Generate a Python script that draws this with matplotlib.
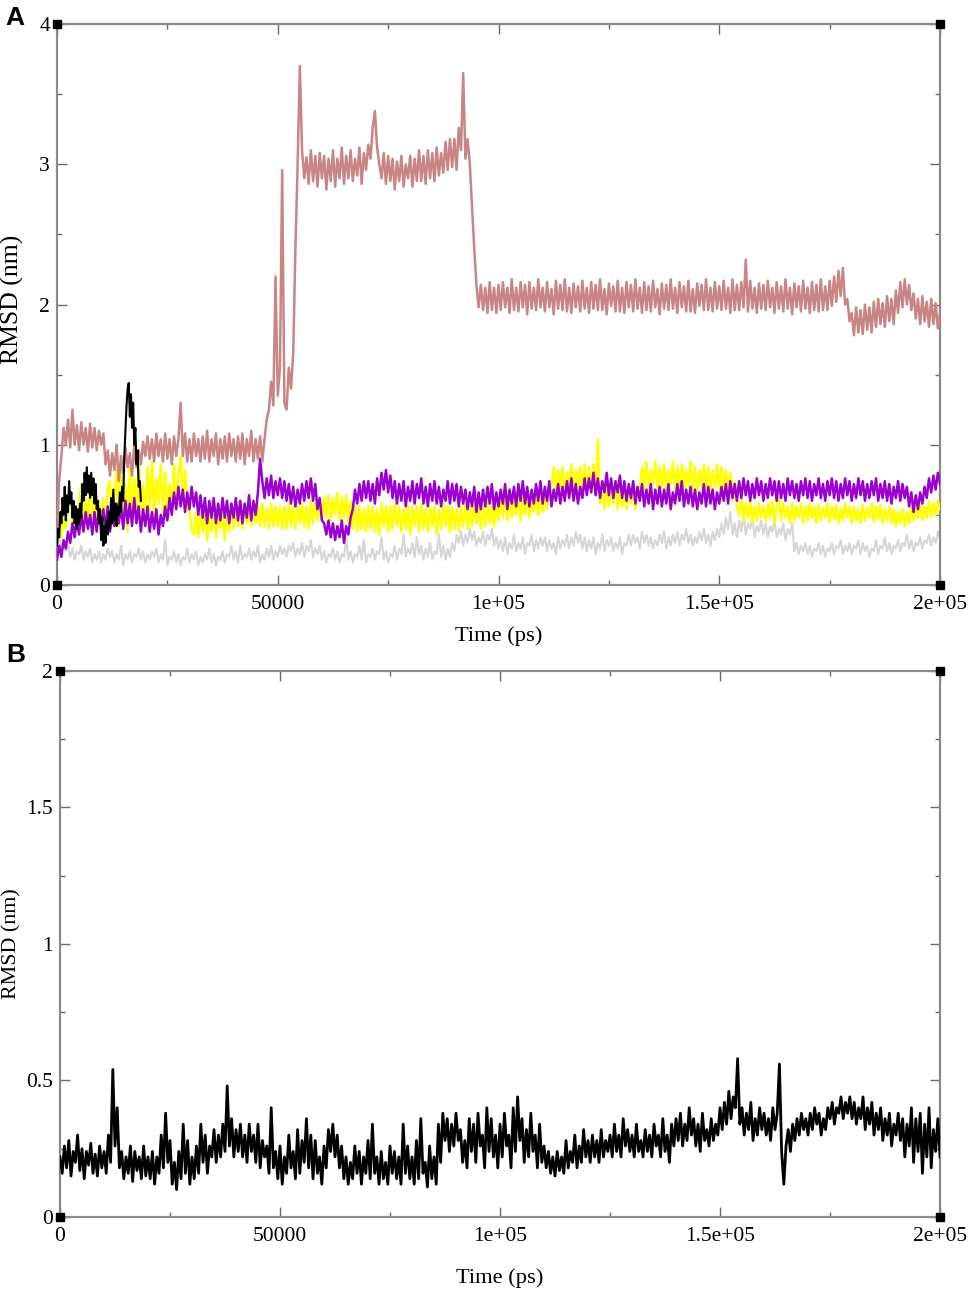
import numpy as np
import matplotlib
matplotlib.use('Agg')
import matplotlib.pyplot as plt
from matplotlib.ticker import MultipleLocator

plt.rcParams['font.family'] = ['Liberation Serif', 'DejaVu Serif']

# ---------------- data (RMSD in hundredths of nm) ----------------
STEP_A = 500        # ps between samples (panel A, long series)
STEP_BLACK_A = 250  # ps between samples (panel A, short black series)
STEP_B = 500        # ps between samples (panel B)

brown = [
    30, 75, 92, 112, 100, 118, 98, 125, 100, 114, 96, 116, 100, 112, 95, 115, 98, 112, 96, 110,
    100, 108, 86, 96, 78, 94, 82, 100, 74, 92, 80, 98, 84, 94, 78, 100, 84, 96, 86, 102,
    92, 106, 90, 104, 88, 108, 92, 104, 88, 108, 90, 104, 86, 106, 92, 104, 130, 92, 108, 88,
    104, 88, 108, 92, 104, 88, 106, 90, 110, 88, 104, 92, 108, 86, 104, 90, 106, 88, 108, 92,
    104, 88, 106, 90, 108, 86, 104, 92, 110, 88, 104, 90, 106, 88, 104, 118, 125, 145, 128, 220,
    135, 155, 296, 130, 125, 155, 140, 165, 240, 300, 370, 310, 290, 305, 286, 310, 288, 306, 284, 308,
    290, 306, 282, 304, 288, 310, 284, 304, 290, 312, 286, 306, 290, 310, 288, 304, 292, 312, 286, 308,
    296, 314, 304, 326, 338, 312, 300, 290, 308, 286, 306, 288, 304, 282, 302, 288, 306, 284, 300, 290,
    306, 284, 304, 288, 310, 288, 306, 286, 310, 290, 308, 288, 312, 292, 308, 294, 316, 296, 318, 298,
    318, 296, 326, 310, 365, 304, 318, 300, 270, 240, 214, 198, 214, 196, 212, 194, 216, 196, 212, 194,
    214, 196, 216, 198, 212, 194, 218, 196, 212, 195, 216, 198, 214, 193, 216, 197, 212, 196, 218, 198,
    212, 195, 216, 198, 211, 193, 217, 197, 214, 196, 218, 195, 212, 194, 215, 198, 213, 195, 217, 197,
    212, 194, 216, 197, 214, 196, 218, 196, 211, 193, 215, 199, 213, 195, 217, 195, 212, 194, 216, 198,
    214, 195, 218, 197, 212, 194, 216, 196, 213, 195, 217, 198, 211, 193, 215, 197, 214, 196, 218, 197,
    212, 194, 216, 198, 213, 195, 217, 195, 211, 194, 215, 199, 214, 196, 218, 196, 212, 195, 216, 197,
    213, 196, 217, 197, 212, 194, 218, 196, 214, 196, 216, 198, 232, 195, 217, 197, 212, 194, 215, 197,
    214, 196, 217, 198, 212, 194, 216, 197, 213, 195, 218, 197, 212, 193, 215, 198, 213, 195, 217, 197,
    212, 194, 216, 196, 214, 195, 218, 196, 213, 196, 217, 199, 220, 202, 224, 206, 226, 200, 204, 188,
    194, 178, 198, 180, 196, 179, 200, 182, 198, 180, 202, 184, 204, 186, 201, 184, 206, 188, 204, 186,
    210, 194, 216, 198, 218, 200, 214, 196, 208, 190, 204, 186, 206, 188, 202, 184, 204, 186, 201, 183,
    194,
]

purple = [
    18, 28, 20, 32, 26, 38, 30, 44, 34, 48, 36, 50, 38, 52, 40, 50, 36, 52, 38, 54,
    42, 54, 40, 56, 38, 52, 42, 58, 44, 56, 40, 60, 44, 58, 42, 62, 44, 56, 38, 54,
    42, 56, 38, 52, 40, 54, 36, 50, 42, 56, 46, 62, 50, 66, 54, 70, 56, 68, 52, 66,
    54, 70, 56, 66, 50, 64, 48, 62, 44, 60, 48, 62, 44, 58, 46, 62, 48, 60, 44, 58,
    48, 62, 46, 60, 44, 58, 48, 64, 46, 60, 50, 66, 90, 74, 62, 76, 64, 78, 62, 74,
    64, 76, 62, 74, 60, 72, 58, 70, 56, 68, 58, 72, 60, 74, 62, 76, 60, 72, 54, 62,
    46, 44, 36, 46, 34, 44, 32, 42, 34, 46, 30, 42, 36, 48, 54, 68, 58, 72, 60, 74,
    62, 74, 60, 72, 58, 76, 64, 80, 68, 82, 66, 78, 62, 74, 58, 72, 60, 74, 56, 70,
    60, 74, 58, 72, 62, 76, 58, 70, 56, 72, 60, 74, 58, 70, 56, 68, 60, 74, 58, 72,
    60, 72, 56, 70, 58, 68, 54, 66, 56, 70, 52, 66, 54, 68, 56, 70, 58, 72, 54, 66,
    56, 68, 58, 72, 54, 68, 58, 70, 56, 72, 60, 74, 58, 70, 56, 68, 58, 72, 60, 74,
    58, 70, 60, 74, 56, 68, 60, 72, 58, 70, 60, 74, 62, 76, 60, 72, 58, 70, 62, 76,
    64, 76, 66, 80, 64, 76, 62, 74, 66, 80, 64, 76, 62, 74, 66, 78, 62, 74, 60, 72,
    62, 74, 58, 70, 60, 72, 56, 68, 58, 72, 54, 68, 58, 70, 56, 68, 58, 72, 54, 66,
    58, 72, 60, 74, 56, 68, 58, 70, 56, 68, 54, 66, 58, 72, 56, 70, 58, 68, 54, 66,
    58, 70, 60, 72, 58, 74, 62, 72, 60, 74, 62, 76, 64, 74, 60, 72, 62, 76, 64, 74,
    60, 72, 62, 76, 64, 74, 60, 74, 62, 72, 60, 76, 64, 74, 62, 72, 60, 74, 64, 76,
    62, 74, 60, 72, 64, 76, 62, 72, 60, 74, 64, 76, 62, 74, 60, 72, 62, 76, 64, 74,
    60, 72, 62, 76, 64, 74, 60, 72, 62, 74, 64, 76, 60, 72, 62, 74, 60, 72, 58, 70,
    62, 74, 60, 72, 62, 70, 56, 66, 52, 64, 54, 66, 58, 70, 62, 76, 66, 78, 68, 80,
    72,
]

yellow = [
    38, 48, 34, 52, 40, 64, 68, 42, 54, 38, 58, 72, 44, 62, 40, 76, 46, 68, 38, 60,
    42, 62, 36, 70, 74, 44, 64, 82, 42, 88, 50, 72, 38, 84, 54, 76, 44, 90, 52, 72,
    46, 84, 54, 88, 50, 76, 58, 86, 52, 80, 48, 72, 56, 86, 60, 78, 92, 62, 82, 54,
    54, 40, 36, 52, 34, 50, 38, 56, 32, 48, 38, 58, 34, 52, 40, 54, 32, 50, 38, 58,
    40, 58, 42, 60, 40, 56, 44, 56, 42, 58, 44, 56, 42, 58, 42, 54, 40, 58, 42, 56,
    42, 56, 40, 56, 40, 58, 42, 56, 40, 56, 44, 58, 42, 56, 40, 60, 44, 58, 46, 62,
    46, 62, 48, 64, 46, 62, 50, 66, 46, 62, 48, 64, 44, 60, 40, 56, 38, 56, 40, 54,
    38, 56, 40, 56, 38, 54, 36, 58, 42, 56, 38, 56, 40, 58, 42, 56, 38, 54, 40, 56,
    36, 56, 42, 56, 38, 58, 40, 54, 38, 56, 42, 56, 36, 54, 40, 58, 42, 56, 38, 56,
    40, 54, 38, 56, 42, 58, 40, 56, 42, 58, 44, 58, 40, 56, 42, 58, 44, 56, 42, 60,
    46, 60, 48, 64, 46, 62, 48, 62, 50, 64, 46, 62, 50, 66, 48, 62, 52, 66, 50, 64,
    52, 66, 54, 72, 70, 84, 66, 82, 68, 84, 66, 80, 70, 86, 68, 82, 66, 84, 70, 86,
    68, 84, 70, 86, 66, 104, 58, 72, 54, 70, 56, 72, 58, 74, 54, 70, 56, 68, 54, 70,
    58, 74, 54, 70, 68, 84, 70, 88, 68, 82, 72, 88, 68, 84, 70, 86, 66, 82, 72, 88,
    68, 84, 70, 86, 66, 82, 70, 88, 68, 84, 66, 82, 70, 86, 68, 84, 66, 82, 70, 86,
    68, 84, 66, 82, 68, 80, 60, 74, 56, 50, 62, 46, 58, 48, 60, 44, 56, 46, 58, 48,
    56, 46, 58, 48, 60, 44, 56, 62, 46, 58, 48, 56, 44, 58, 46, 56, 48, 58, 44, 56,
    46, 58, 48, 56, 44, 57, 46, 55, 48, 58, 45, 56, 47, 57, 44, 54, 46, 58, 48, 56,
    44, 56, 46, 54, 44, 57, 46, 55, 48, 58, 45, 56, 47, 57, 44, 54, 46, 56, 44, 54,
    42, 52, 44, 54, 42, 52, 44, 56, 46, 54, 48, 58, 46, 56, 48, 60, 48, 58, 50, 60,
    54,
]

gray = [
    30, 34, 26, 32, 24, 28, 20, 26, 18, 24, 22, 28, 18, 24, 20, 26, 16, 22, 18, 24,
    16, 22, 18, 26, 20, 24, 16, 22, 18, 28, 14, 22, 18, 24, 16, 22, 20, 26, 18, 24,
    16, 22, 18, 24, 20, 26, 16, 22, 18, 32, 14, 20, 18, 24, 16, 22, 14, 20, 18, 26,
    16, 22, 18, 24, 14, 20, 16, 22, 18, 26, 16, 22, 14, 20, 18, 24, 16, 22, 20, 28,
    18, 24, 16, 28, 18, 22, 20, 26, 18, 24, 20, 28, 16, 22, 18, 26, 20, 28, 18, 24,
    20, 28, 22, 26, 20, 28, 24, 30, 20, 26, 22, 30, 20, 28, 24, 32, 20, 26, 22, 28,
    18, 24, 16, 22, 20, 26, 18, 24, 16, 22, 20, 34, 18, 24, 16, 22, 20, 28, 18, 32,
    16, 22, 20, 26, 18, 24, 22, 34, 18, 24, 16, 22, 20, 28, 18, 26, 22, 36, 20, 26,
    22, 30, 20, 34, 22, 28, 18, 26, 20, 30, 18, 24, 22, 36, 20, 28, 18, 26, 20, 30,
    24, 36, 30, 38, 28, 36, 30, 40, 32, 38, 28, 34, 30, 38, 28, 36, 32, 40, 28, 34,
    26, 32, 24, 34, 22, 30, 26, 36, 24, 30, 26, 34, 22, 30, 28, 36, 24, 32, 26, 34,
    28, 34, 24, 32, 26, 30, 22, 34, 26, 32, 28, 36, 26, 34, 28, 38, 30, 36, 26, 34,
    24, 32, 26, 34, 22, 30, 26, 36, 24, 32, 28, 34, 24, 30, 26, 34, 22, 30, 28, 36,
    28, 36, 30, 34, 26, 38, 30, 36, 28, 34, 26, 32, 28, 36, 30, 38, 26, 34, 28, 36,
    30, 38, 28, 36, 32, 40, 30, 36, 28, 34, 30, 38, 32, 40, 30, 36, 28, 38, 32, 40,
    34, 44, 36, 48, 40, 52, 36, 44, 34, 46, 38, 50, 36, 44, 40, 48, 34, 42, 38, 46,
    36, 44, 34, 42, 38, 46, 34, 40, 36, 44, 32, 40, 36, 44, 24, 30, 22, 28, 24, 30,
    22, 28, 20, 26, 24, 30, 22, 28, 20, 26, 24, 30, 22, 28, 26, 32, 22, 28, 24, 30,
    22, 28, 26, 32, 22, 30, 24, 28, 20, 26, 24, 32, 22, 28, 26, 34, 24, 30, 22, 28,
    26, 32, 24, 30, 28, 36, 26, 32, 24, 30, 28, 34, 26, 32, 30, 36, 28, 34, 30, 38,
    32,
]

black_a = [
    28, 40, 34, 52, 44, 62, 50, 70, 46, 64, 52,
    74, 58, 66, 48, 60, 44, 56, 40, 54, 44,
    58, 48, 72, 60, 80, 64, 84, 66, 78,
    62, 80, 64, 76, 58, 72, 54, 60, 44,
    54, 32, 48, 28, 42, 30, 46, 36, 52,
    40, 62, 44, 68, 46, 58, 42, 56, 50,
    66, 52, 70, 60, 92, 110, 128, 140, 144,
    120, 136, 112, 130, 100, 112, 86, 96, 70,
    74, 60,
]

black_b = [
    22, 16, 26, 18, 28, 15, 24, 20, 30, 17, 25, 14, 24, 19, 27, 16, 23, 15, 26, 18,
    24, 16, 30, 20, 54, 26, 40, 18, 24, 14, 22, 16, 26, 13, 24, 17, 22, 14, 26, 15,
    22, 14, 24, 12, 22, 16, 30, 18, 38, 20, 28, 12, 20, 10, 24, 14, 34, 16, 28, 12,
    22, 14, 26, 16, 34, 20, 30, 16, 26, 22, 32, 20, 30, 22, 34, 24, 48, 26, 36, 22,
    32, 24, 34, 22, 30, 20, 34, 24, 30, 20, 34, 18, 28, 22, 26, 16, 40, 18, 24, 14,
    26, 12, 22, 16, 30, 18, 24, 14, 32, 16, 28, 20, 36, 18, 30, 14, 28, 16, 22, 12,
    26, 18, 32, 24, 34, 22, 30, 18, 26, 14, 22, 12, 20, 14, 26, 16, 24, 12, 22, 16,
    28, 14, 34, 16, 22, 12, 24, 14, 20, 12, 26, 16, 24, 14, 22, 12, 34, 16, 26, 14,
    22, 12, 28, 14, 36, 16, 20, 11, 26, 14, 22, 12, 34, 20, 38, 28, 36, 24, 34, 26,
    38, 28, 32, 20, 28, 18, 36, 24, 34, 20, 38, 26, 30, 18, 40, 24, 36, 22, 30, 18,
    34, 22, 38, 26, 30, 18, 40, 24, 44, 28, 36, 20, 32, 22, 38, 24, 30, 18, 34, 20,
    26, 18, 24, 16, 22, 15, 24, 17, 22, 16, 28, 18, 24, 20, 30, 18, 26, 20, 32, 22,
    28, 20, 30, 22, 28, 20, 32, 22, 28, 24, 30, 22, 34, 24, 30, 22, 36, 26, 32, 24,
    30, 22, 34, 24, 28, 22, 32, 24, 30, 22, 34, 26, 30, 22, 36, 24, 30, 20, 34, 26,
    36, 28, 38, 26, 34, 28, 40, 30, 36, 26, 34, 24, 38, 28, 32, 26, 36, 28, 34, 30,
    40, 32, 42, 34, 46, 36, 44, 40, 58, 34, 40, 30, 38, 32, 42, 28, 36, 30, 40, 32,
    38, 30, 36, 28, 40, 32, 38, 56, 24, 12, 26, 32, 24, 34, 28, 36, 30, 38, 32, 36,
    30, 38, 32, 40, 34, 38, 30, 36, 32, 40, 36, 42, 34, 40, 38, 44, 36, 42, 38, 44,
    36, 42, 34, 40, 36, 44, 32, 40, 34, 42, 30, 38, 32, 40, 28, 36, 30, 38, 26, 34,
    30, 38, 28, 36, 22, 34, 26, 40, 20, 36, 24, 38, 16, 34, 22, 40, 18, 32, 24, 36,
    22,
]

x_ticks = [0, 50000, 100000, 150000, 200000]
x_tick_labels = ['0', '50000', '1e+05', '1.5e+05', '2e+05']
a_yticks = [0, 1, 2, 3, 4]
a_ylabels = ['0', '1', '2', '3', '4']
b_yticks = [0, 0.5, 1, 1.5, 2]
b_ylabels = ['0', '0.5', '1', '1.5', '2']

colors = {'brown': '#c98585', 'purple': '#9a00d0', 'yellow': '#ffff00',
          'gray': '#d6d6d6', 'black': '#000000'}


def series(vals, step):
    v = np.asarray(vals, dtype=float) / 100.0
    t = np.arange(len(v)) * step
    return t, v


fig = plt.figure(figsize=(9.71, 12.93), dpi=100)
axA = fig.add_axes([0.0587, 0.5476, 0.9094, 0.4338])
axB = fig.add_axes([0.0618, 0.0588, 0.9063, 0.4223])


def style(ax, yticks, ylabels, yminor, ymax, xlabelpad, ylabel_x, ylabel_y,
          ylabel_size):
    ax.set_xlim(0, 200000)
    ax.set_ylim(0, ymax)
    ax.set_xticks(x_ticks)
    ax.set_xticklabels(x_tick_labels)
    ax.xaxis.set_minor_locator(MultipleLocator(25000))
    ax.set_yticks(yticks)
    ax.set_yticklabels(ylabels)
    ax.yaxis.set_minor_locator(MultipleLocator(yminor))
    for s in ax.spines.values():
        s.set_color('#8a8a8a')
        s.set_linewidth(1.6)
    ax.tick_params(which='both', direction='in', top=True, right=True,
                   color='#6a6a6a', width=1.0, labelsize=15.5)
    ax.tick_params(axis='x', which='major', length=7, pad=7)
    ax.tick_params(axis='y', which='major', length=7, pad=5)
    ax.tick_params(which='minor', length=3.5)
    ax.plot([0, 1, 0, 1], [0, 0, 1, 1], 's', ms=5.5, color='black',
            transform=ax.transAxes, clip_on=False, zorder=10)
    ax.set_xlabel('Time (ps)', fontsize=16.2, labelpad=xlabelpad)
    ax.set_ylabel('RMSD (nm)', fontsize=ylabel_size)
    ax.yaxis.set_label_coords(ylabel_x, ylabel_y)


style(axA, a_yticks, a_ylabels, 0.5, 4, 9, -0.037, 0.51, 18.5)
style(axB, b_yticks, b_ylabels, 0.25, 2, 16, -0.0435, 0.5, 15.8)

lw = 1.8
t, v = series(gray, STEP_A)
axA.plot(t, v, color=colors['gray'], lw=1.5, zorder=2)
t, v = series(yellow, STEP_A)
axA.plot(t, v, color=colors['yellow'], lw=lw, zorder=3)
t, v = series(purple, STEP_A)
axA.plot(t, v, color=colors['purple'], lw=lw, zorder=4)
t, v = series(brown, STEP_A)
axA.plot(t, v, color=colors['brown'], lw=lw, zorder=5)
t, v = series(black_a, STEP_BLACK_A)
axA.plot(t, v, color=colors['black'], lw=1.5, zorder=6)

t, v = series(black_b, STEP_B)
axB.plot(t, v, color=colors['black'], lw=2.0, zorder=3)

fig.text(0.006, 0.995, 'A', fontsize=19, fontweight='bold',
         family=['Liberation Sans', 'DejaVu Sans'], va='top', ha='left')
fig.text(0.006, 0.503, 'B', fontsize=19, fontweight='bold',
         family=['Liberation Sans', 'DejaVu Sans'], va='top', ha='left')

fig.savefig('out.png', dpi=100)
